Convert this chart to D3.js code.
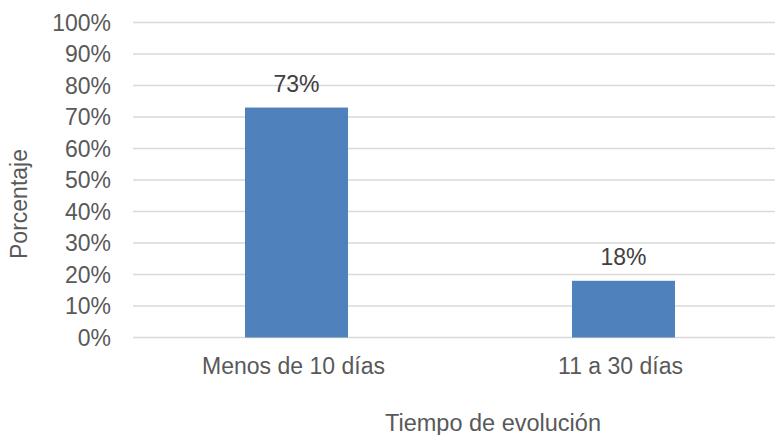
<!DOCTYPE html>
<html>
<head>
<meta charset="utf-8">
<script src="https://cdn.jsdelivr.net/npm/d3@7"></script>
<style>
  body { margin: 0; background: #fff; }
  svg text { font-family: "Liberation Sans", Arial, sans-serif; }
</style>
</head>
<body>
<svg width="775" height="435"></svg>
<script>
// datos del grafico
var categorias = ["Menos de 10 días", "11 a 30 días"];
var valores = [73, 18];
var ticksY = [0, 10, 20, 30, 40, 50, 60, 70, 80, 90, 100];

var svg = d3.select("svg");

// area del grafico (el lado derecho queda recortado como en el original)
var plotLeft = 133, plotRight = 787, plotTop = 22.5, plotBottom = 337.5;

var x = d3.scaleBand()
    .domain(categorias)
    .range([plotLeft, plotRight])
    .paddingInner(0.685)
    .paddingOuter(0.3425);

var y = d3.scaleLinear().domain([0, 100]).range([plotBottom, plotTop]);

// lineas de cuadricula
svg.selectAll("line.grid")
    .data(ticksY)
    .enter()
    .append("line")
    .attr("class", "grid")
    .attr("x1", plotLeft)
    .attr("x2", plotRight)
    .attr("y1", function (d) { return y(d); })
    .attr("y2", function (d) { return y(d); })
    .attr("stroke", "#d9d9d9")
    .attr("stroke-width", 1.5);

// etiquetas del eje Y
svg.selectAll("text.ytick")
    .data(ticksY)
    .enter()
    .append("text")
    .attr("class", "ytick")
    .attr("x", 111)
    .attr("y", function (d) { return y(d); })
    .attr("dy", "0.36em")
    .attr("text-anchor", "end")
    .attr("font-size", 23)
    .attr("fill", "#595959")
    .text(function (d) { return d + "%"; });

// barras
svg.selectAll("rect.bar")
    .data(valores)
    .enter()
    .append("rect")
    .attr("class", "bar")
    .attr("x", function (d, i) { return x(categorias[i]); })
    .attr("y", function (d) { return y(d); })
    .attr("width", x.bandwidth())
    .attr("height", function (d) { return y(0) - y(d); })
    .attr("fill", "#4f81bd");

// etiquetas de datos
svg.selectAll("text.label")
    .data(valores)
    .enter()
    .append("text")
    .attr("class", "label")
    .attr("x", function (d, i) { return x(categorias[i]) + x.bandwidth() / 2; })
    .attr("y", function (d) { return y(d) - 16; })
    .attr("text-anchor", "middle")
    .attr("font-size", 23)
    .attr("fill", "#404040")
    .text(function (d) { return d + "%"; });

// etiquetas del eje X
svg.selectAll("text.xtick")
    .data(categorias)
    .enter()
    .append("text")
    .attr("class", "xtick")
    .attr("x", function (d) { return x(d) + x.bandwidth() / 2 - 3; })
    .attr("y", 374)
    .attr("text-anchor", "middle")
    .attr("font-size", 23)
    .attr("fill", "#595959")
    .text(function (d) { return d; });

// titulos de ejes
svg.append("text")
    .attr("x", 493)
    .attr("y", 431)
    .attr("text-anchor", "middle")
    .attr("font-size", 23.5)
    .attr("fill", "#595959")
    .text("Tiempo de evolución");

svg.append("text")
    .attr("transform", "translate(27,204) rotate(-90)")
    .attr("text-anchor", "middle")
    .attr("font-size", 23)
    .attr("fill", "#595959")
    .text("Porcentaje");
</script>
</body>
</html>
